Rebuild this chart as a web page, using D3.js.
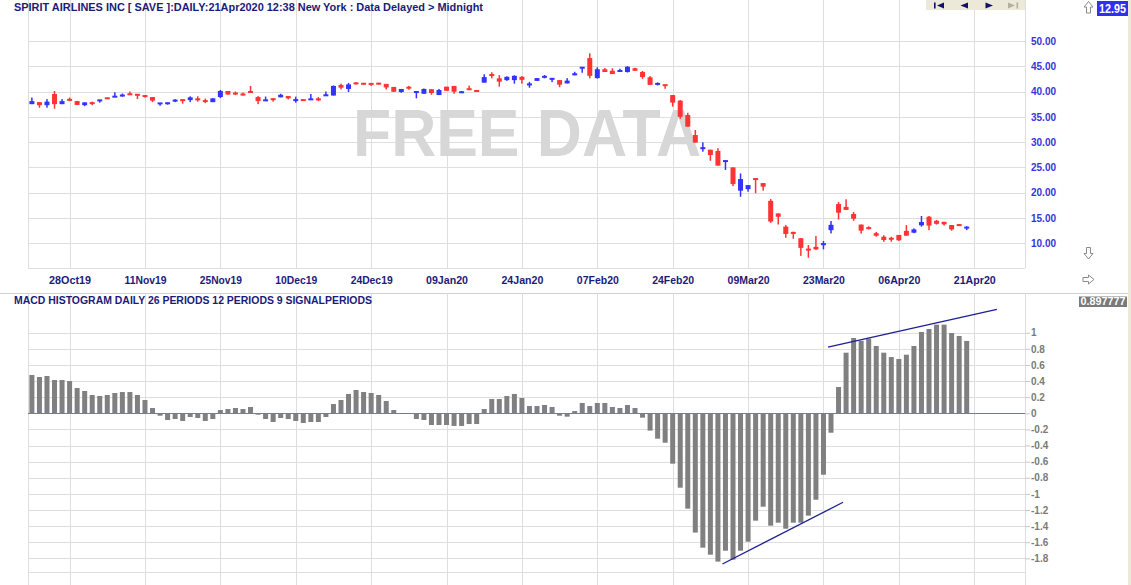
<!DOCTYPE html>
<html><head><meta charset="utf-8">
<script src="https://cdn.jsdelivr.net/npm/d3@7"></script>
<style>
html,body{margin:0;padding:0;background:#fff;}
svg{display:block;}
text{font-family:"Liberation Sans",Arial,sans-serif;}
</style></head><body>
<svg id="c" width="1131" height="585"></svg>
<script>
// ---------- DATA ----------
const openP = [37.5,37.9,37.3,39.5,37.5,38.4,38.1,37.3,37.75,38.2,
38.7,38.9,39.0,39.5,39.5,39.15,38.9,37.6,37.5,38.15,
38.35,38.3,38.5,38.3,37.9,38.9,40.1,39.65,39.45,40.1,
38.9,38.2,38.65,38.85,39.1,38.25,38.35,38.4,38.5,39.2,
39.2,41.3,40.5,41.65,41.7,41.55,41.6,41.5,40.9,39.9,
40.8,39.85,39.55,40.45,39.3,40.95,41.1,39.8,40.5,40.15,
41.75,43.3,42.6,42.25,42.25,42.9,41.35,42.1,42.85,42.45,
42.25,41.6,43.2,44.65,46.6,42.65,44.4,44.1,44.0,43.85,
44.6,43.85,42.8,41.45,41.3,39.3,38.2,35.35,31.4,28.75,
28.5,28.25,26.2,25.0,20.4,20.7,22.8,21.9,18.4,15.9,
13.3,12.2,11.0,8.8,9.3,9.65,12.6,17.75,17.2,15.8,
13.7,13.05,12.0,11.3,11.05,11.65,12.45,12.1,13.55,15.25,
14.45,14.25,13.6,13.65,13.05];
const closeP = [38.1,37.3,38.0,37.5,38.1,38.3,37.35,37.85,37.65,38.3,
38.6,39.05,39.4,39.4,39.2,39.05,38.2,37.7,37.85,38.25,
38.25,38.85,38.4,37.9,38.65,40.1,39.4,39.55,39.35,39.7,
38.1,38.3,38.3,39.35,38.65,38.35,38.25,38.5,38.4,39.3,
41.1,40.75,41.4,41.55,41.35,41.45,41.5,40.8,39.95,40.5,
40.7,39.95,40.5,39.7,40.3,40.15,39.95,39.9,40.4,40.05,
42.85,43.2,41.95,42.9,43.1,42.3,41.45,42.65,42.95,42.55,
41.35,42.15,43.6,44.75,43.1,44.4,43.85,43.45,44.1,44.9,
44.1,42.85,41.3,41.55,41.2,37.8,35.0,33.05,29.9,28.85,
27.45,25.35,26.3,21.7,22.7,21.5,22.6,21.2,14.3,15.25,
11.85,11.9,9.1,8.7,8.8,10.0,13.65,16.05,16.6,14.85,
12.5,12.95,11.5,10.65,10.75,10.6,11.5,12.75,14.2,13.5,
13.85,13.75,12.75,13.55,13.15];
const highP = [38.8,37.9,38.5,40.1,38.5,38.8,38.15,37.85,38.0,38.3,
38.8,39.85,39.6,40.0,39.5,39.3,38.9,37.7,37.85,38.5,
38.35,39.05,39.05,38.6,38.65,40.3,40.1,40.0,39.8,41.1,
39.1,39.0,38.65,39.55,39.1,38.97,38.45,39.5,38.9,40.0,
41.2,41.55,41.7,41.85,41.7,41.55,41.7,41.5,40.9,40.5,
41.1,40.1,40.6,40.45,40.5,40.95,41.1,40.1,41.15,40.2,
43.4,43.8,43.25,43.0,43.2,43.05,41.9,42.65,43.25,42.55,
42.25,42.65,43.9,44.75,47.55,44.8,44.65,44.6,44.5,45.0,
44.7,44.05,43.05,41.8,41.3,39.3,38.3,35.8,32.4,29.95,
28.5,28.8,26.3,25.0,23.8,21.5,22.8,21.9,18.75,15.9,
13.6,12.3,11.0,9.65,11.45,10.45,14.4,18.15,18.7,16.2,
13.7,13.35,12.25,11.6,11.3,11.65,13.6,12.95,15.4,15.4,
14.6,14.25,13.6,13.8,13.35];
const lowP = [37.5,36.8,36.8,36.6,37.5,38.1,37.3,37.1,37.3,37.8,
38.55,38.9,39.0,39.3,38.5,38.8,37.9,37.2,37.4,37.9,
37.6,37.9,38.0,37.7,37.9,38.7,39.4,39.3,39.2,39.7,
37.5,38.2,38.0,38.85,38.45,37.8,38.15,38.4,38.1,39.1,
39.2,40.4,39.9,41.4,41.35,41.1,41.4,40.4,39.95,39.75,
40.35,38.65,39.55,39.35,39.3,40.15,39.55,39.7,40.4,39.95,
41.75,42.6,40.95,42.1,41.55,41.55,40.75,42.1,42.6,41.85,
40.85,41.6,43.2,43.7,42.6,42.55,43.85,43.45,44.0,43.75,
44.1,42.5,41.3,41.2,40.55,37.0,34.6,33.05,29.9,28.1,
26.3,25.35,24.5,21.3,19.2,20.2,19.9,20.4,14.05,13.7,
11.1,10.9,7.5,7.15,8.7,8.8,11.95,14.7,16.6,14.45,
11.9,12.75,11.3,10.3,10.3,10.45,11.5,12.0,13.3,12.6,
13.7,13.5,12.5,13.45,12.6];
const macdHist = [0.475,0.45,0.463,0.413,0.413,0.40,0.314,0.277,0.227,0.215,
0.227,0.252,0.264,0.264,0.227,0.165,0.066,-0.03,-0.083,-0.071,
-0.095,-0.046,-0.058,-0.095,-0.071,0.041,0.053,0.066,0.053,0.078,
-0.017,-0.071,-0.108,-0.058,-0.071,-0.095,-0.12,-0.108,-0.108,-0.046,
0.115,0.165,0.24,0.289,0.264,0.252,0.227,0.153,0.041,0.0,
0.0,-0.071,-0.083,-0.145,-0.145,-0.145,-0.157,-0.157,-0.133,-0.133,
0.053,0.177,0.177,0.215,0.24,0.19,0.09,0.09,0.103,0.078,
-0.03,-0.042,0.028,0.128,0.09,0.128,0.128,0.078,0.066,0.103,
0.066,-0.054,-0.215,-0.315,-0.365,-0.625,-0.923,-1.183,-1.48,-1.667,
-1.754,-1.84,-1.705,-1.816,-1.705,-1.593,-1.332,-1.159,-1.394,-1.357,
-1.432,-1.357,-1.357,-1.27,-1.072,-0.762,-0.241,0.326,0.752,0.934,
0.90,0.926,0.835,0.752,0.698,0.674,0.727,0.835,1.009,1.046,
1.10,1.10,0.996,0.959,0.897777];
const tickLabels = ["28Oct19","11Nov19","25Nov19","10Dec19","24Dec19","09Jan20","24Jan20","07Feb20","24Feb20","09Mar20","23Mar20","06Apr20","21Apr20"];
const tickIndex = [5,15,25,35,45,55,65,75,85,95,105,115,125];
const priceTicks = [10,15,20,25,30,35,40,45,50];
const macdTicks = [1,0.8,0.6,0.4,0.2,0,-0.2,-0.4,-0.6,-0.8,-1,-1.2,-1.4,-1.6,-1.8];
const upperTrend = [[105.6,0.82],[128.0,1.29]];
const lowerTrend = [[91.6,-1.87],[107.6,-1.104]];
const titleText = "SPIRIT AIRLINES INC [ SAVE ]:DAILY:21Apr2020 12:38 New York : Data Delayed > Midnight";
const macdTitle = "MACD HISTOGRAM DAILY 26 PERIODS 12 PERIODS 9 SIGNALPERIODS";
const lastPrice = "12.95";
const lastMacd = "0.897777";

// ---------- SCALES ----------
const x = d3.scaleLinear().domain([0,124]).range([31.9,966.7]);
const yP = d3.scaleLinear().domain([10,50]).range([243.3,40.9]);
const yM = d3.scaleLinear().domain([0,1]).range([413.3,332.7]);
const L = 28, R = 1025, topBot = 268, mTop = 293, mBot = 572;
const px = v => Math.round(v) + 0.5;
const gridCol = "#dedede", navy = "#1b1b78";

const svg = d3.select("#c");
svg.append("rect").attr("width",1131).attr("height",585).attr("fill","#fff");
svg.append("rect").attr("x",1128).attr("y",0).attr("width",3).attr("height",585).attr("fill","#ece9d8");

function hline(g,y,x1,x2,c,w){g.append("line").attr("x1",x1).attr("x2",x2).attr("y1",px(y)).attr("y2",px(y)).attr("stroke",c).attr("stroke-width",w||1).attr("shape-rendering","crispEdges");}
function vline(g,xx,y1,y2,c,w){g.append("line").attr("x1",px(xx)).attr("x2",px(xx)).attr("y1",y1).attr("y2",y2).attr("stroke",c).attr("stroke-width",w||1).attr("shape-rendering","crispEdges");}

// ---------- PRICE PANEL ----------
const gT = svg.append("g");
priceTicks.forEach(t => hline(gT, yP(t), L, R, gridCol));
tickIndex.forEach(i => vline(gT, x(i), 0, topBot, gridCol));
vline(gT, L, 0, topBot, gridCol);
vline(gT, R, 0, topBot, gridCol);
hline(gT, topBot, L, R, gridCol);

// watermark
gT.append("text").attr("x",527).attr("y",156).attr("text-anchor","middle")
  .attr("font-size",66).attr("font-weight","bold").attr("fill","#d7d7d7")
  .attr("textLength",348).attr("lengthAdjust","spacingAndGlyphs").text("FREE DATA");

// candles
const candles = d3.range(openP.length).map(i => ({i, o:openP[i], h:highP[i], l:lowP[i], c:closeP[i]}));
const gc = gT.append("g");
gc.selectAll("rect.w").data(candles).join("rect").attr("class","w")
  .attr("x",d=>x(d.i)-0.75).attr("width",1.5)
  .attr("y",d=>yP(d.h)).attr("height",d=>Math.max(1,yP(d.l)-yP(d.h)))
  .attr("fill",d=>d.c>=d.o?"#3333ff":"#ff3333");
gc.selectAll("rect.b").data(candles).join("rect").attr("class","b")
  .attr("x",d=>x(d.i)-2.5).attr("width",5)
  .attr("y",d=>{const t=yP(Math.max(d.o,d.c)), b=yP(Math.min(d.o,d.c)); return b-t<2?(t+b)/2-1:t;})
  .attr("height",d=>Math.max(2,yP(Math.min(d.o,d.c))-yP(Math.max(d.o,d.c))))
  .attr("fill",d=>d.c>=d.o?"#3333ff":"#ff3333");

// price axis
const ay = svg.append("g").attr("transform",`translate(${R},0)`)
  .call(d3.axisRight(yP).tickValues(priceTicks).tickFormat(d3.format(".2f")).tickSize(0).tickPadding(6));
ay.select(".domain").remove();
ay.selectAll("text").attr("font-size",10).attr("font-weight","bold").attr("fill","#3535d8")
  .attr("font-family","Liberation Sans, Arial, sans-serif");

// date axis
const ax = svg.append("g").attr("transform",`translate(0,${topBot})`)
  .call(d3.axisBottom(x).tickValues(tickIndex).tickFormat((d,i)=>tickLabels[i]).tickSize(0).tickPadding(8.5));
ax.select(".domain").remove();
ax.selectAll("text").attr("font-size",11).attr("font-weight","bold").attr("fill",navy)
  .attr("font-family","Liberation Sans, Arial, sans-serif")
  .attr("textLength",42).attr("lengthAdjust","spacingAndGlyphs");

// title
svg.append("text").attr("x",14).attr("y",10.5).attr("font-size",11).attr("font-weight","bold")
  .attr("fill",navy).attr("textLength",469).attr("lengthAdjust","spacingAndGlyphs").text(titleText);

// nav buttons
const gn = svg.append("g");
gn.append("rect").attr("x",926).attr("y",0).attr("width",99).attr("height",10).attr("fill","#ece9d8");
gn.append("rect").attr("x",934).attr("y",2.5).attr("width",1.6).attr("height",6).attr("fill","#10106a");
gn.append("path").attr("d","M937,5.5L944,2.5L944,8.5Z").attr("fill","#10106a");
gn.append("path").attr("d","M960.5,5.5L968,2.5L968,8.5Z").attr("fill","#10106a");
gn.append("path").attr("d","M993,5.5L985.5,2.5L985.5,8.5Z").attr("fill","#10106a");
gn.append("path").attr("d","M1008,2.5L1015,5.5L1008,8.5Z").attr("fill","#b4b0a0");
gn.append("rect").attr("x",1016.5).attr("y",2.5).attr("width",1.6).attr("height",6).attr("fill","#b4b0a0");

// arrows at right
const arrowStyle = g => g.attr("fill","#fff").attr("stroke","#8a8a8a").attr("stroke-width",1);
svg.append("path").attr("d","M1088.5,1.5L1093,7L1090.5,7L1090.5,13L1086.5,13L1086.5,7L1084,7Z").call(arrowStyle);
svg.append("path").attr("d","M1088.5,259L1093,253.5L1090.5,253.5L1090.5,247.5L1086.5,247.5L1086.5,253.5L1084,253.5Z").call(arrowStyle);
svg.append("path").attr("d","M1094,279.5L1088.5,275L1088.5,277.5L1083,277.5L1083,281.5L1088.5,281.5L1088.5,284Z").call(arrowStyle);

// last price box
svg.append("rect").attr("x",1097).attr("y",1).attr("width",31).attr("height",15).attr("fill","#3030f0");
svg.append("text").attr("x",1112.5).attr("y",13).attr("text-anchor","middle").attr("font-size",12)
  .attr("font-weight","bold").attr("fill","#fff").attr("textLength",27).attr("lengthAdjust","spacingAndGlyphs").text(lastPrice);

// ---------- MACD PANEL ----------
const gM = svg.append("g");
hline(gM, mTop, 0, 1128, "#cfcfcf");
macdTicks.filter(t=>t!==0).forEach(t => hline(gM, yM(t), L, R, gridCol));
tickIndex.forEach(i => vline(gM, x(i), mTop, mBot, gridCol));
vline(gM, L, mTop, mBot, gridCol);
vline(gM, R, mTop, mBot, gridCol);
hline(gM, mBot, L, R, gridCol);
// partial lower panel
tickIndex.forEach(i => vline(gM, x(i), mBot, 585, gridCol));
vline(gM, L, mBot, 585, gridCol);
vline(gM, R, mBot, 585, gridCol);

const bars = macdHist.map((v,i)=>({i,v}));
gM.selectAll("rect.m").data(bars).join("rect").attr("class","m")
  .attr("x",d=>x(d.i)-2.5).attr("width",5)
  .attr("y",d=>Math.min(yM(d.v),yM(0))).attr("height",d=>Math.abs(yM(d.v)-yM(0)))
  .attr("fill","#808080");
hline(gM, yM(0), L, R, "#7474c0");

const line = d3.line().x(d=>x(d[0])).y(d=>yM(d[1]));
[upperTrend, lowerTrend].forEach(t => gM.append("path").attr("d",line(t)).attr("fill","none")
  .attr("stroke","#1e1e96").attr("stroke-width",1.3));

const am = svg.append("g").attr("transform",`translate(${R},0)`)
  .call(d3.axisRight(yM).tickValues(macdTicks).tickFormat(d=>String(+d.toFixed(1))).tickSize(5).tickPadding(1));
am.select(".domain").remove();
am.selectAll("line").attr("stroke","#c8c8c8");
am.selectAll("text").attr("font-size",10).attr("font-weight","bold").attr("fill","#7a7a7a")
  .attr("font-family","Liberation Sans, Arial, sans-serif");

svg.append("text").attr("x",14).attr("y",304).attr("font-size",11).attr("font-weight","bold")
  .attr("fill",navy).attr("textLength",358).attr("lengthAdjust","spacingAndGlyphs").text(macdTitle);

svg.append("rect").attr("x",1079).attr("y",296.5).attr("width",48).attr("height",10.5).attr("fill","#7a7a7a");
svg.append("text").attr("x",1103).attr("y",305).attr("text-anchor","middle").attr("font-size",10)
  .attr("font-weight","bold").attr("fill","#fff").attr("textLength",45).attr("lengthAdjust","spacingAndGlyphs").text(lastMacd);
</script>
</body></html>
